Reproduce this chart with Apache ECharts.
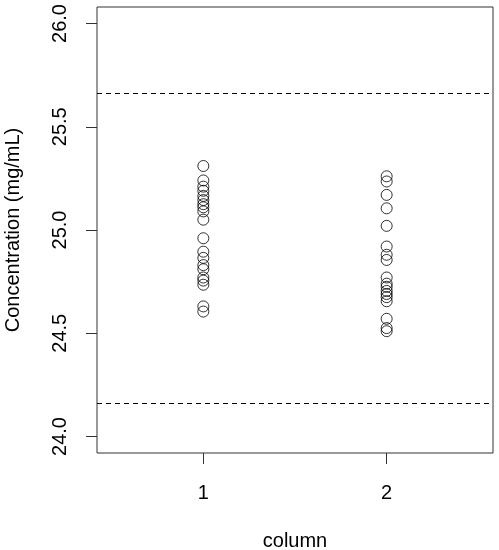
<!DOCTYPE html>
<html>
<head>
<meta charset="utf-8">
<script src="https://cdn.jsdelivr.net/npm/echarts@6/dist/echarts.min.js"></script>
<style>
  html, body { margin: 0; padding: 0; background: #fff; }
  #chart { width: 499px; height: 550px; }
</style>
</head>
<body>
<div id="chart"></div>
<script>
// measured concentrations per column
var column1 = [25.31, 25.24, 25.21, 25.19, 25.165, 25.145, 25.125, 25.11, 25.09, 25.05,
               24.96, 24.895, 24.865, 24.83, 24.81, 24.77, 24.755, 24.735, 24.63, 24.605]
var column2 = [25.26, 25.235, 25.17, 25.105, 25.02, 24.92, 24.88, 24.855, 24.77,
               24.74, 24.725, 24.705, 24.69, 24.675, 24.655, 24.57, 24.525, 24.51]
var xTicks = [1, 2]
var yTicks = [24.0, 24.5, 25.0, 25.5, 26.0]
var limits = [25.655, 24.16] // dashed reference lines

var font = 'Liberation Sans, Arial, sans-serif'
var points = []
column1.forEach(function (v) { points.push([1, v]) })
column2.forEach(function (v) { points.push([2, v]) })

var chart = echarts.init(document.getElementById('chart'), null, { renderer: 'canvas' })
var option = {
    animation: false,
    backgroundColor: '#fff',
    grid: {
        left: 97, right: 6, top: 7, bottom: 97,
        outerBoundsMode: 'none',
        containLabel: false,
        show: true, borderColor: '#333', borderWidth: 1, backgroundColor: 'transparent'
    },
    xAxis: {
        type: 'value',
        min: 0.42,
        max: 2.58,
        name: 'column',
        nameLocation: 'middle',
        nameGap: 78,
        nameTextStyle: { color: '#000', fontSize: 20, fontFamily: font },
        axisLine: { show: false },
        splitLine: { show: false },
        axisTick: { show: true, length: 11, customValues: xTicks, lineStyle: { color: '#333' } },
        axisLabel: {
            customValues: xTicks, margin: 30, color: '#000', fontSize: 20, fontFamily: font,
            formatter: function (v) { return String(v) }
        }
    },
    yAxis: {
        type: 'value',
        min: 23.92,
        max: 26.08,
        name: 'Concentration (mg/mL)',
        nameLocation: 'middle',
        nameGap: 74,
        nameTextStyle: { color: '#000', fontSize: 20, fontFamily: font },
        axisLine: { show: false },
        splitLine: { show: false },
        axisTick: { show: true, length: 11, customValues: yTicks, lineStyle: { color: '#333' } },
        axisLabel: {
            customValues: yTicks, rotate: 90, margin: 27, color: '#000', fontSize: 20, fontFamily: font,
            formatter: function (v) { return v.toFixed(1) }
        }
    },
    series: [
        {
            type: 'scatter',
            data: points,
            symbol: 'circle',
            symbolSize: 11,
            itemStyle: { color: 'transparent', borderColor: '#000', borderWidth: 1 },
            markLine: {
                silent: true,
                symbol: ['none', 'none'],
                label: { show: false },
                lineStyle: { color: '#000', type: [5, 4], width: 1 },
                data: limits.map(function (v) { return { yAxis: v } })
            }
        }
    ]
}
chart.setOption(option)
</script>
</body>
</html>
